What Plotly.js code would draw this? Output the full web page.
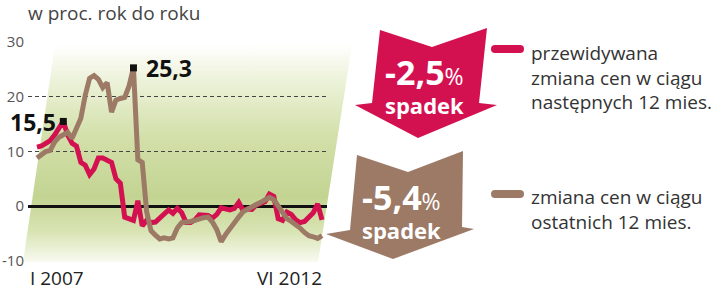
<!DOCTYPE html>
<html>
<head>
<meta charset="utf-8">
<script src="https://cdn.plot.ly/plotly-3.0.1.min.js"></script>
<style>html,body{margin:0;padding:0;background:#fff;}#chart{width:720px;height:293px;}</style>
</head>
<body>
<div id="chart"></div>
<script>
// ---- data (monthly, I 2007 .. VI 2012) ----
const months = Array.from({length: 66}, (_, i) => i); // 0 = I 2007, 65 = VI 2012
const expected = [10.8, 11.0, 11.5, 12.0, 13.0, 14.2, 15.5, 13.0, 11.5, 11.0, 8.0, 7.5, 5.8, 6.8, 8.8, 8.8, 8.4, 8.0, 5.0, 4.2,
  -2.0, -2.2, -2.6, 1.0, -3.6, -2.6, -3.0, -2.9, -2.2, -1.7, -0.7, -1.3, -0.4, -1.2, -3.0, -3.0, -2.5, -1.6, -1.7, -1.7,
  -2.2, -1.5, -0.3, -0.6, -0.7, -0.4, 0.7, -0.8, -0.5, -0.6, 0.2, 0.5, 0.8, 2.2, 1.8, -2.3, -2.6, -1.1, -1.5, -2.5,
  -3.0, -2.8, -2.0, -1.2, 0.4, -2.5];
const past = [8.8, 9.3, 10.0, 10.2, 11.7, 12.6, 13.0, 13.5, 12.4, 14.3, 16.1, 20.3, 23.4, 23.9, 23.2, 21.7, 22.6, 17.2, 19.4, 19.7,
  19.9, 22.0, 25.3, 8.5, 8.0, -1.0, -4.5, -5.3, -6.0, -5.8, -6.0, -5.8, -4.0, -3.0, -3.0, -2.8, -2.6, -2.3, -2.1, -2.0,
  -2.9, -4.3, -6.5, -5.2, -4.0, -3.0, -2.0, -1.0, -0.5, -0.2, 0.3, 0.7, 1.2, 1.6, 1.2, 0.0, -1.4, -2.3, -2.8, -3.3,
  -4.0, -4.8, -5.4, -5.6, -5.9, -5.4];
const peakX = [6, 22];
const peakY = [15.5, 25.3];
const peakLabels = ["15,5", "25,3"];
const yTicks = [-10, 0, 10, 20, 30];
const xLabels = ["I 2007", "VI 2012"];
const titleText = "w proc. rok do roku";
const expectedLegend = "przewidywana<br>zmiana cen w ciągu<br>następnych 12 mies.";
const pastLegend = "zmiana cen w ciągu<br>ostatnich 12 mies.";
const expectedLast = "-2,5";
const pastLast = "-5,4";
const arrowWord = "spadek";

// ---- style ----
const RED = "#d41150", BROWN = "#9c7a66";
const FONT = "Open Sans, Liberation Sans, sans-serif";
const W = 720, H = 293, ML = 28, MR = 393, MT = 42, MB = 32;
const PW = W - ML - MR, PH = H - MT - MB;
const px = x => (x - ML) / PW;
const py = y => (H - MB - y) / PH;

// decoration (gradient panel, arrows, legend swatches)
const svg = `<svg xmlns='http://www.w3.org/2000/svg' width='720' height='293' viewBox='0 0 720 293' preserveAspectRatio='none'>
<defs><linearGradient id='g' x1='0' y1='0' x2='0' y2='1'>
<stop offset='0' stop-color='#ffffff'/>
<stop offset='0.12' stop-color='#f1f5e2'/>
<stop offset='0.42' stop-color='#d3e0aa'/>
<stop offset='0.70' stop-color='#c3d492'/>
<stop offset='0.86' stop-color='#d9e4b4'/>
<stop offset='1' stop-color='#f8faf0'/>
</linearGradient></defs>
<polygon points='55,45 352,45 318,262 23,262' fill='url(#g)'/>
<polygon points='380,30 432,47 487,28 479,103 497,105 418,138 355,105 372,103' fill='${RED}'/>
<polygon points='357,155 408,172 463,151 462,227 474,229 393,259 326,234 350,230' fill='${BROWN}'/>
<line x1='495' y1='49' x2='520' y2='49' stroke='${RED}' stroke-width='8' stroke-linecap='round'/>
<line x1='495' y1='194' x2='520' y2='194' stroke='${BROWN}' stroke-width='8' stroke-linecap='round'/>
</svg>`;

const traces = [
  {x: months, y: expected, type: "scatter", mode: "lines", line: {color: RED, width: 5}, hoverinfo: "skip"},
  {x: months, y: past, type: "scatter", mode: "lines", line: {color: BROWN, width: 5}, hoverinfo: "skip"},
  {x: peakX, y: peakY, type: "scatter", mode: "markers", marker: {symbol: "square", size: 7, color: "#111"}, hoverinfo: "skip"}
];

const arrowText = v => "<span style='font-size:34px'><b>" + v + "</b></span><span style='font-size:23px'>%</span><br>" +
                       "<span style='font-size:22px'><b>" + arrowWord + "</b></span>";

const annotations = [
  {xref: "x", yref: "y", x: peakX[0], y: peakY[0], text: "<b>" + peakLabels[0] + "</b>", showarrow: false,
   xanchor: "right", yanchor: "middle", xshift: -5, yshift: -1, font: {family: FONT, size: 23, color: "#111"}},
  {xref: "x", yref: "y", x: peakX[1], y: peakY[1], text: "<b>" + peakLabels[1] + "</b>", showarrow: false,
   xanchor: "left", yanchor: "middle", xshift: 11, font: {family: FONT, size: 23, color: "#111"}},
  {xref: "paper", yref: "paper", x: px(28), y: py(278), text: xLabels[0], showarrow: false,
   xanchor: "left", yanchor: "middle", font: {family: FONT, size: 19, color: "#222"}},
  {xref: "paper", yref: "paper", x: px(324), y: py(278), text: xLabels[1], showarrow: false,
   xanchor: "right", yanchor: "middle", font: {family: FONT, size: 19, color: "#222"}},
  {xref: "paper", yref: "paper", x: px(529), y: py(77), text: expectedLegend, showarrow: false, align: "left",
   xanchor: "left", yanchor: "middle", font: {family: FONT, size: 19, color: "#333"}},
  {xref: "paper", yref: "paper", x: px(529), y: py(209), text: pastLegend, showarrow: false, align: "left",
   xanchor: "left", yanchor: "middle", font: {family: FONT, size: 19, color: "#333"}},
  {xref: "paper", yref: "paper", x: px(424), y: py(84), text: arrowText(expectedLast), showarrow: false, align: "center",
   xanchor: "center", yanchor: "middle", font: {family: FONT, size: 22, color: "#fff"}},
  {xref: "paper", yref: "paper", x: px(401), y: py(209), text: arrowText(pastLast), showarrow: false, align: "center",
   xanchor: "center", yanchor: "middle", font: {family: FONT, size: 22, color: "#fff"}}
];

const layout = {
  width: W, height: H,
  margin: {l: ML, r: MR, t: MT, b: MB, pad: 0},
  paper_bgcolor: "#fff", plot_bgcolor: "rgba(0,0,0,0)",
  showlegend: false,
  title: {text: titleText, x: 28 / W, xref: "container", xanchor: "left", y: 1 - 13 / H, yref: "container", yanchor: "middle",
          font: {family: FONT, size: 19, color: "#444"}},
  xaxis: {range: [-9 / 4.385, 290 / 4.385], showgrid: false, zeroline: false, showticklabels: false, ticks: "", fixedrange: true},
  yaxis: {range: [-10.03, 30.03], tickvals: yTicks, ticktext: yTicks.map(String), showgrid: true, gridcolor: "#444", gridwidth: 1.3,
          griddash: "4px,3px", zeroline: true, zerolinecolor: "#111", zerolinewidth: 3, ticks: "", ticklabelstandoff: 3,
          tickfont: {family: FONT, size: 15, color: "#555"}, fixedrange: true},
  images: [{source: "data:image/svg+xml;charset=utf-8," + encodeURIComponent(svg), xref: "paper", yref: "paper",
            x: px(0), y: py(0), sizex: W / PW, sizey: H / PH, xanchor: "left", yanchor: "top", sizing: "stretch", layer: "below"}],
  annotations: annotations
};

Plotly.newPlot("chart", traces, layout, {displayModeBar: false, staticPlot: true});
</script>
</body>
</html>
